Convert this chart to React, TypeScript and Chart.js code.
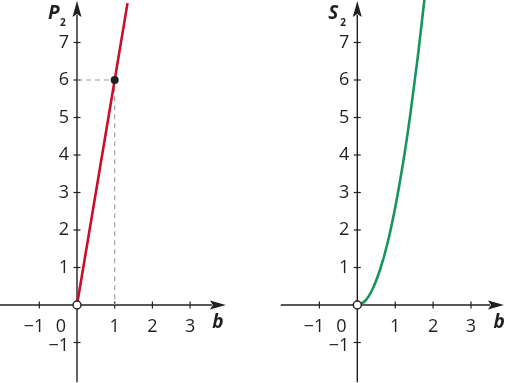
import React, { useEffect, useRef } from "react";
import { Chart, registerables } from "chart.js";

Chart.register(...registerables);

// ---- data ----
const perimeterB = [0, 1, 1.34];
const perimeterP = [0, 6, 8.05];
const areaB = [0, 0.2, 0.4, 0.6, 0.8, 1.0, 1.2, 1.4, 1.6, 1.77];
const areaS = [0, 0.1, 0.42, 0.94, 1.66, 2.6, 3.74, 5.09, 6.65, 8.14];
const guideB = [0, 1, 1];
const guideP = [6, 6, 0];
const markedB = [1];
const markedP = [6];
const xTickValues = [-1, 1, 2, 3];
const yTickValues = [-1, 1, 2, 3, 4, 5, 6, 7];
const originLabel = "0";
const xAxisName = "b";
const leftAxisName = "P";
const rightAxisName = "S";
const axisSubscript = "2";

const INK = "#231f20";
const RED = "#c8102e";
const GREEN = "#16955e";
const FONT = '"Open Sans", "Noto Sans", sans-serif';

const fmt = (v: number) => (v < 0 ? "\u2212" + Math.abs(v) : String(v));

type PanelCfg = {
  xMin: number;
  xMax: number;
  yMin: number;
  yMax: number;
  xStart: number;
  xEnd: number;
  yStart: number;
  yEnd: number;
  name: string;
};

function makeAxesPlugin(cfg: PanelCfg) {
  return {
    id: "customAxes",
    beforeDatasetsDraw(chart: any) {
      const { ctx } = chart;
      const x = chart.scales.x;
      const y = chart.scales.y;
      const ox = x.getPixelForValue(0);
      const oy = y.getPixelForValue(0);
      ctx.save();
      ctx.strokeStyle = INK;
      ctx.fillStyle = INK;
      ctx.lineWidth = 1.4;

      const xs = x.getPixelForValue(cfg.xStart);
      const xe = x.getPixelForValue(cfg.xEnd);
      const ys = y.getPixelForValue(cfg.yStart);
      const ye = y.getPixelForValue(cfg.yEnd);
      const aLen = 16;
      const aHalf = 4.5;

      // x axis
      ctx.beginPath();
      ctx.moveTo(xs, oy);
      ctx.lineTo(xe - aLen + 2, oy);
      ctx.stroke();
      ctx.beginPath();
      ctx.moveTo(xe, oy);
      ctx.lineTo(xe - aLen, oy - aHalf);
      ctx.lineTo(xe - aLen + 3, oy);
      ctx.lineTo(xe - aLen, oy + aHalf);
      ctx.closePath();
      ctx.fill();

      // y axis
      ctx.beginPath();
      ctx.moveTo(ox, ys);
      ctx.lineTo(ox, ye + aLen - 2);
      ctx.stroke();
      ctx.beginPath();
      ctx.moveTo(ox, ye);
      ctx.lineTo(ox - aHalf, ye + aLen);
      ctx.lineTo(ox, ye + aLen - 3);
      ctx.lineTo(ox + aHalf, ye + aLen);
      ctx.closePath();
      ctx.fill();

      // ticks
      ctx.lineWidth = 1.2;
      const t = 3.5;
      ctx.font = `18px ${FONT}`;
      ctx.textBaseline = "middle";
      for (const v of xTickValues) {
        const px = x.getPixelForValue(v);
        ctx.beginPath();
        ctx.moveTo(px, oy - t);
        ctx.lineTo(px, oy + t);
        ctx.stroke();
        if (v < 0) {
          ctx.textAlign = "right";
          ctx.fillText(fmt(v), px + 5, oy + 22);
        } else {
          ctx.textAlign = "center";
          ctx.fillText(fmt(v), px, oy + 22);
        }
      }
      for (const v of yTickValues) {
        const py = y.getPixelForValue(v);
        ctx.beginPath();
        ctx.moveTo(ox - t, py);
        ctx.lineTo(ox + t, py);
        ctx.stroke();
        ctx.textAlign = "right";
        ctx.fillText(fmt(v), ox - 8, py + (v < 0 ? 3 : 0));
      }
      // origin label
      ctx.textAlign = "center";
      ctx.fillText(originLabel, ox - 16, oy + 22);

      // axis names
      ctx.font = `italic bold 19px ${FONT}`;
      ctx.textAlign = "center";
      ctx.fillText(xAxisName, x.getPixelForValue(3.74), oy + 18);

      ctx.textAlign = "left";
      ctx.textBaseline = "alphabetic";
      ctx.fillText(cfg.name, ox - 29, 19);
      ctx.font = `bold 10px ${FONT}`;
      ctx.fillText(axisSubscript, ox - 17, 26);
      ctx.restore();
    },
  };
}

function Panel({
  cfg,
  curveX,
  curveY,
  color,
  smooth,
  showGuide,
  left,
}: {
  cfg: PanelCfg;
  curveX: number[];
  curveY: number[];
  color: string;
  smooth: boolean;
  showGuide: boolean;
  left: number;
}) {
  const ref = useRef<HTMLCanvasElement>(null);
  useEffect(() => {
    if (!ref.current) return;
    const datasets: any[] = [
      {
        data: [{ x: 0, y: 0 }],
        pointRadius: 4,
        pointBackgroundColor: "#ffffff",
        pointBorderColor: INK,
        pointBorderWidth: 1.4,
        showLine: false,
        order: 0,
      },
      {
        data: curveX.map((b, i) => ({ x: b, y: curveY[i] })),
        borderColor: color,
        borderWidth: 2.6,
        pointRadius: 0,
        showLine: true,
        cubicInterpolationMode: smooth ? "monotone" : "default",
        tension: 0,
        order: 2,
      },
    ];
    if (showGuide) {
      datasets.push({
        data: guideB.map((b, i) => ({ x: b, y: guideP[i] })),
        borderColor: "#a0a0a0",
        borderWidth: 1.2,
        borderDash: [5, 4],
        pointRadius: 0,
        showLine: true,
        order: 3,
      });
      datasets.push({
        data: markedB.map((b, i) => ({ x: b, y: markedP[i] })),
        pointRadius: 4,
        pointBackgroundColor: INK,
        pointBorderColor: INK,
        pointBorderWidth: 0,
        showLine: false,
        order: 1,
      });
    }
    const chart = new Chart(ref.current, {
      type: "scatter",
      data: { datasets },
      options: {
        animation: false,
        responsive: false,
        devicePixelRatio: 1,
        layout: { padding: 0, autoPadding: false },
        clip: false as any,
        plugins: { legend: { display: false }, tooltip: { enabled: false } },
        events: [],
        scales: {
          x: { type: "linear", min: cfg.xMin, max: cfg.xMax, display: false },
          y: { type: "linear", min: cfg.yMin, max: cfg.yMax, display: false },
        },
      },
      plugins: [makeAxesPlugin(cfg)],
    });
    return () => chart.destroy();
  }, []);
  return (
    <canvas
      ref={ref}
      width={254}
      height={383}
      style={{ position: "absolute", left, top: 0, width: 254, height: 383 }}
    />
  );
}

const leftCfg: PanelCfg = {
  xMin: -77 / 37.7,
  xMax: 177 / 37.7,
  yMin: -78 / 37.5,
  yMax: 305 / 37.5,
  xStart: -2.05,
  xEnd: 3.95,
  yStart: -2.06,
  yEnd: 8.11,
  name: leftAxisName,
};

const rightCfg: PanelCfg = {
  xMin: -103.3 / 37.9,
  xMax: 150.7 / 37.9,
  yMin: -78 / 37.5,
  yMax: 305 / 37.5,
  xStart: -2.02,
  xEnd: 3.87,
  yStart: -2.06,
  yEnd: 8.11,
  name: rightAxisName,
};

export default function App() {
  return (
    <div
      style={{
        position: "fixed",
        left: 0,
        top: 0,
        width: 508,
        height: 383,
        background: "#ffffff",
      }}
    >
      <Panel
        cfg={leftCfg}
        curveX={perimeterB}
        curveY={perimeterP}
        color={RED}
        smooth={false}
        showGuide={true}
        left={0}
      />
      <Panel
        cfg={rightCfg}
        curveX={areaB}
        curveY={areaS}
        color={GREEN}
        smooth={true}
        showGuide={false}
        left={254}
      />
    </div>
  );
}
